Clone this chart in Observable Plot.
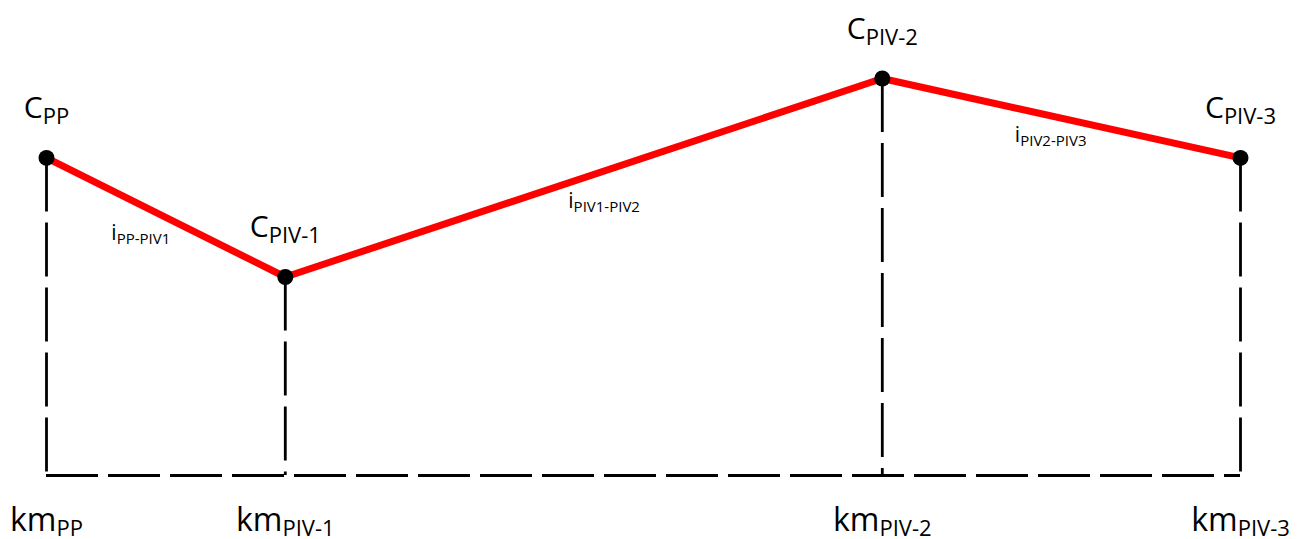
<!DOCTYPE html>
<html>
<head>
<meta charset="utf-8">
<script src="https://cdn.jsdelivr.net/npm/d3@7"></script>
<script src="https://cdn.jsdelivr.net/npm/@observablehq/plot@0.6"></script>
<style>
  html, body { margin: 0; padding: 0; background: #fff; }
  #chart svg { display: block; overflow: visible; }
</style>
</head>
<body>
<div id="chart"></div>
<script>
// Profile points (stationing in km, elevation in arbitrary units)
const pointNames = ["PP", "PIV-1", "PIV-2", "PIV-3"];
const kmValues = [0, 2, 7, 10];
const elevValues = [80, 50, 100, 80];
// Slope labels and their anchor positions (km, elevation)
const slopeNames = ["PP-PIV1", "PIV1-PIV2", "PIV2-PIV3"];
const slopeKm = [0.79, 4.67, 8.41];
const slopeElev = [59.2, 67.3, 84.1];

const pts = pointNames.map((n, i) => ({name: n, km: kmValues[i], elev: elevValues[i]}));
const slopes = slopeNames.map((n, i) => ({name: n, km: slopeKm[i], elev: slopeElev[i]}));

const FONT = "'Open Sans', sans-serif";

const plot = Plot.plot({
  width: 1299,
  height: 539,
  marginLeft: 46,
  marginRight: 59,
  marginTop: 78,
  marginBottom: 64,
  x: {domain: [0, 10], axis: null},
  y: {domain: [0, 100], axis: null},
  style: {fontFamily: FONT, background: "#fff", overflow: "visible"},
  marks: [
    Plot.ruleX(pts, {x: "km", y1: "elev", y2: 0, stroke: "#000", strokeWidth: 2.8, strokeDasharray: "54,11"}),
    Plot.ruleY([0], {x1: 0, x2: 10, stroke: "#000", strokeWidth: 2.8, strokeDasharray: "52,10"}),
    Plot.line(pts, {x: "km", y: "elev", stroke: "#ff0000", strokeWidth: 7, strokeLinejoin: "round"}),
    Plot.dot(pts, {x: "km", y: "elev", r: 8, fill: "#000", stroke: "none"}),
    Plot.text(pts, {x: "km", y: "elev", text: d => "C|" + d.name, dy: -40, lineAnchor: "bottom", textAnchor: "middle", fontSize: 30, fill: "#000", className: "sublabel-c"}),
    Plot.text(pts, {x: "km", y: 0, text: d => "km|" + d.name, dy: 55, lineAnchor: "bottom", textAnchor: "middle", fontSize: 32, fill: "#000", className: "sublabel-km"}),
    Plot.text(slopes, {x: "km", y: "elev", text: d => "i|" + d.name, lineAnchor: "bottom", textAnchor: "middle", fontSize: 21, fill: "#000", className: "sublabel-i"})
  ]
});

// Convert "main|sub" labels into text with a subscript tspan
function subscript(cls, subSize, shift) {
  d3.select(plot).selectAll("g." + cls + " text").each(function() {
    const t = d3.select(this);
    const [main, sub] = t.text().split("|");
    t.text(null);
    t.append("tspan").text(main);
    t.append("tspan").attr("font-size", subSize).attr("dy", shift).text(sub);
  });
}
subscript("sublabel-c", 22, 6);
subscript("sublabel-km", 22, 5);
subscript("sublabel-i", 15, 4);

document.getElementById("chart").appendChild(plot);
</script>
</body>
</html>
